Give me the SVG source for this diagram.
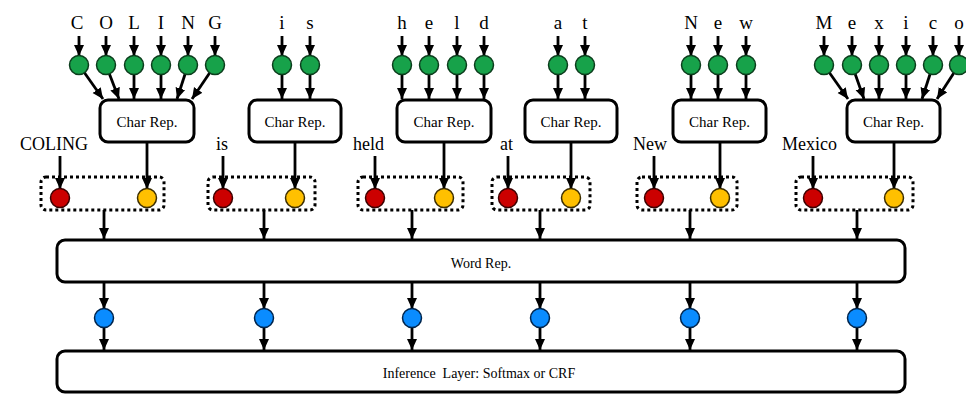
<svg xmlns="http://www.w3.org/2000/svg" width="966" height="403" viewBox="0 0 966 403">
<defs>
<marker id="ah" markerUnits="userSpaceOnUse" markerWidth="11" markerHeight="11" refX="11" refY="5.5" orient="auto"><path d="M0,0.5 L11,5.5 L0,10.5 z" fill="#000"/></marker>
<style>
.c path{stroke:#000;stroke-width:2.8;fill:none;marker-end:url(#ah)}
.box{fill:#fff;stroke:#000;stroke-width:3}
.dot{fill:none;stroke:#000;stroke-width:3;stroke-dasharray:3 3}
.g{fill:#17a24a;stroke:#0b3d1c;stroke-width:1.5}
.r{fill:#cc0000;stroke:#3d0000;stroke-width:1.5}
.y{fill:#ffc000;stroke:#3d2e00;stroke-width:1.5}
.b{fill:#0a8cff;stroke:#00254d;stroke-width:1.5}
.ch{font-family:"Liberation Serif",serif;font-size:19px;text-anchor:middle;fill:#000}
.w{font-family:"Liberation Serif",serif;font-size:18px;fill:#000}
.t{font-family:"Liberation Serif",serif;font-size:15px;text-anchor:middle;fill:#000}
.s{font-family:"Liberation Serif",serif;font-size:14px;text-anchor:middle;fill:#000;white-space:pre}
</style>
</defs>
<g id="connectors" class="c">
<path d="M79,36V56"/><path d="M106,36V56"/><path d="M134,36V56"/><path d="M161,36V56"/><path d="M188,36V56"/><path d="M215,36V56"/>
<path d="M282,36V56"/><path d="M310,36V56"/>
<path d="M402,36V56"/><path d="M429,36V56"/><path d="M457,36V56"/><path d="M484,36V56"/>
<path d="M558,36V56"/><path d="M585,36V56"/>
<path d="M691,36V56"/><path d="M718,36V56"/><path d="M746,36V56"/>
<path d="M824,36V56"/><path d="M852,36V56"/><path d="M879,36V56"/><path d="M906,36V56"/><path d="M933,36V56"/><path d="M959,36V56"/>
<path d="M79,65L103,99"/><path d="M106,65L119,99"/><path d="M134,65V99"/><path d="M161,65V99"/><path d="M188,65L177,99"/><path d="M215,65L192,99"/>
<path d="M282,65V99"/><path d="M310,65V99"/>
<path d="M402,65V99"/><path d="M429,65V99"/><path d="M457,65V99"/><path d="M484,65V99"/>
<path d="M558,65V99"/><path d="M585,65V99"/>
<path d="M691,65V99"/><path d="M718,65V99"/><path d="M746,65V99"/>
<path d="M824,65L848,99"/><path d="M852,65L864,99"/><path d="M879,65V99"/><path d="M906,65V99"/><path d="M933,65L922,99"/><path d="M959,65L937,99"/>
<path d="M147,142V189"/><path d="M295,142V189"/><path d="M444,142V189"/><path d="M571,142V189"/><path d="M720,142V189"/><path d="M894,142V189"/>
<path d="M60,156V189"/><path d="M223,156V189"/><path d="M375,156V189"/><path d="M508,156V189"/><path d="M654,156V189"/><path d="M813,156V189"/>
<path d="M104,210V239"/><path d="M264,210V239"/><path d="M412,210V239"/><path d="M540,210V239"/><path d="M690,210V239"/><path d="M857,210V239"/>
<path d="M104,282V309"/><path d="M264,282V309"/><path d="M412,282V309"/><path d="M540,282V309"/><path d="M690,282V309"/><path d="M857,282V309"/>
<path d="M104,318V350"/><path d="M264,318V350"/><path d="M412,318V350"/><path d="M540,318V350"/><path d="M690,318V350"/><path d="M857,318V350"/>
</g>
<g id="chars-COLING">
<text class="ch" x="77" y="29">C</text><text class="ch" x="106" y="29">O</text><text class="ch" x="134" y="29">L</text><text class="ch" x="161" y="29">I</text><text class="ch" x="188" y="29">N</text><text class="ch" x="215" y="29">G</text>
<circle class="g" cx="79" cy="65" r="9.5"/><circle class="g" cx="106" cy="65" r="9.5"/><circle class="g" cx="134" cy="65" r="9.5"/><circle class="g" cx="161" cy="65" r="9.5"/><circle class="g" cx="188" cy="65" r="9.5"/><circle class="g" cx="215" cy="65" r="9.5"/>
</g>
<g id="chars-is">
<text class="ch" x="282" y="29">i</text><text class="ch" x="310" y="29">s</text>
<circle class="g" cx="282" cy="65" r="9.5"/><circle class="g" cx="310" cy="65" r="9.5"/>
</g>
<g id="chars-held">
<text class="ch" x="402" y="29">h</text><text class="ch" x="429" y="29">e</text><text class="ch" x="457" y="29">l</text><text class="ch" x="484" y="29">d</text>
<circle class="g" cx="402" cy="65" r="9.5"/><circle class="g" cx="429" cy="65" r="9.5"/><circle class="g" cx="457" cy="65" r="9.5"/><circle class="g" cx="484" cy="65" r="9.5"/>
</g>
<g id="chars-at">
<text class="ch" x="558" y="29">a</text><text class="ch" x="585" y="29">t</text>
<circle class="g" cx="558" cy="65" r="9.5"/><circle class="g" cx="585" cy="65" r="9.5"/>
</g>
<g id="chars-New">
<text class="ch" x="691" y="29">N</text><text class="ch" x="718" y="29">e</text><text class="ch" x="746" y="29">w</text>
<circle class="g" cx="691" cy="65" r="9.5"/><circle class="g" cx="718" cy="65" r="9.5"/><circle class="g" cx="746" cy="65" r="9.5"/>
</g>
<g id="chars-Mexico">
<text class="ch" x="824" y="29">M</text><text class="ch" x="852" y="29">e</text><text class="ch" x="879" y="29">x</text><text class="ch" x="906" y="29">i</text><text class="ch" x="933" y="29">c</text><text class="ch" x="959" y="29">o</text>
<circle class="g" cx="824" cy="65" r="9.5"/><circle class="g" cx="852" cy="65" r="9.5"/><circle class="g" cx="879" cy="65" r="9.5"/><circle class="g" cx="906" cy="65" r="9.5"/><circle class="g" cx="933" cy="65" r="9.5"/><circle class="g" cx="959" cy="65" r="9.5"/>
</g>
<g id="charrep-1"><rect class="box" x="100" y="100" width="94" height="42" rx="8"/><text class="t" x="147" y="127">Char Rep.</text></g>
<g id="charrep-2"><rect class="box" x="249" y="100" width="92" height="42" rx="8"/><text class="t" x="295" y="127">Char Rep.</text></g>
<g id="charrep-3"><rect class="box" x="397" y="100" width="94" height="42" rx="8"/><text class="t" x="444" y="127">Char Rep.</text></g>
<g id="charrep-4"><rect class="box" x="525" y="100" width="92" height="42" rx="8"/><text class="t" x="571" y="127">Char Rep.</text></g>
<g id="charrep-5"><rect class="box" x="673" y="100" width="93" height="42" rx="8"/><text class="t" x="719.5" y="127">Char Rep.</text></g>
<g id="charrep-6"><rect class="box" x="847" y="100" width="93" height="42" rx="8"/><text class="t" x="893.5" y="127">Char Rep.</text></g>
<g id="word-1"><text class="w" x="20" y="150">COLING</text><rect class="dot" x="41" y="177" width="123" height="33" rx="5"/><circle class="r" cx="60" cy="198" r="9.5"/><circle class="y" cx="147" cy="198" r="9.5"/></g>
<g id="word-2"><text class="w" x="216" y="150">is</text><rect class="dot" x="208" y="177" width="107" height="33" rx="5"/><circle class="r" cx="223" cy="198" r="9.5"/><circle class="y" cx="295" cy="198" r="9.5"/></g>
<g id="word-3"><text class="w" x="353" y="150">held</text><rect class="dot" x="358" y="177" width="105" height="33" rx="5"/><circle class="r" cx="375" cy="198" r="9.5"/><circle class="y" cx="444" cy="198" r="9.5"/></g>
<g id="word-4"><text class="w" x="500" y="150">at</text><rect class="dot" x="492" y="177" width="98" height="33" rx="5"/><circle class="r" cx="508" cy="198" r="9.5"/><circle class="y" cx="571" cy="198" r="9.5"/></g>
<g id="word-5"><text class="w" x="633" y="150">New</text><rect class="dot" x="637" y="177" width="100" height="33" rx="5"/><circle class="r" cx="654" cy="198" r="9.5"/><circle class="y" cx="720" cy="198" r="9.5"/></g>
<g id="word-6"><text class="w" x="782" y="150">Mexico</text><rect class="dot" x="796" y="177" width="117" height="33" rx="5"/><circle class="r" cx="813" cy="198" r="9.5"/><circle class="y" cx="894" cy="198" r="9.5"/></g>
<g id="word-rep"><rect class="box" x="57" y="240" width="848" height="42" rx="8"/><text class="s" x="481" y="268">Word Rep.</text></g>
<g id="hidden"><circle class="b" cx="104" cy="318" r="9.5"/><circle class="b" cx="264" cy="318" r="9.5"/><circle class="b" cx="412" cy="318" r="9.5"/><circle class="b" cx="540" cy="318" r="9.5"/><circle class="b" cx="690" cy="318" r="9.5"/><circle class="b" cx="857" cy="318" r="9.5"/></g>
<g id="inference"><rect class="box" x="57" y="351" width="848" height="41" rx="8"/><text class="s" x="479" y="378">Inference  Layer: Softmax or CRF</text></g>
</svg>
